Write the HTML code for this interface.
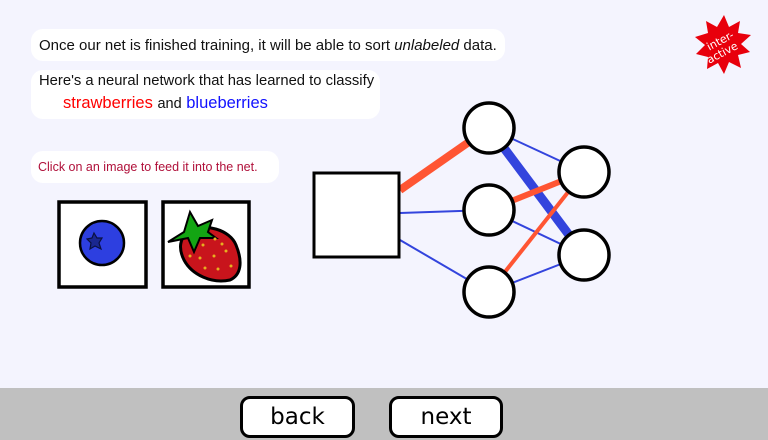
<!DOCTYPE html>
<html><head><style>
body{margin:0;width:768px;height:440px;background:#f4f4fe;font-family:"Liberation Sans",sans-serif;position:relative;overflow:hidden}
.b{position:absolute;background:#fff;border-radius:12px}
.bar{position:absolute;left:0;top:388px;width:768px;height:52px;background:#c0c0c0}
.btn{position:absolute;top:396px;height:36px;background:#fff;border:3px solid #000;border-radius:10px;font-family:"Comic Sans MS","DejaVu Sans",sans-serif;font-size:23px;text-align:center;line-height:36px;box-sizing:content-box}
</style></head><body>
<div class="b" style="left:31px;top:29px;width:474px;height:32px"><div style="position:absolute;left:8px;top:8px;font-size:15px;color:#111;white-space:nowrap">Once our net is finished training, it will be able to sort <i>unlabeled</i> data.</div></div>
<div class="b" style="left:31px;top:70px;width:349px;height:49px"><div style="position:absolute;left:8px;top:3px;font-size:14.8px;color:#111;white-space:nowrap">Here's a neural network that has learned to classify</div><div style="position:absolute;left:32px;top:24px;font-size:16.5px;white-space:nowrap"><span style="color:#f00">strawberries</span> <span style="font-size:14.5px;color:#111">and</span> <span style="color:#11f">blueberries</span></div></div>
<div class="b" style="left:31px;top:151px;width:248px;height:32px"><div style="position:absolute;left:7px;top:9px;font-size:12.5px;color:#b0103a">Click on an image to feed it into the net.</div></div>
<div class="bar"></div>
<div class="btn" style="left:240px;width:109px">back</div>
<div class="btn" style="left:389px;width:108px">next</div>
<svg width="768" height="440" style="position:absolute;left:0;top:0">
<g stroke-linecap="butt">
<line x1="400" y1="190" x2="489" y2="128" stroke="#ff5533" stroke-width="8"/>
<line x1="400" y1="213" x2="489" y2="210" stroke="#3344dd" stroke-width="2"/>
<line x1="400" y1="240" x2="489" y2="292" stroke="#3344dd" stroke-width="2"/>
<line x1="489" y1="128" x2="584" y2="172" stroke="#3344dd" stroke-width="2"/>
<line x1="489" y1="128" x2="584" y2="255" stroke="#3344dd" stroke-width="9"/>
<line x1="489" y1="210" x2="584" y2="172" stroke="#ff5533" stroke-width="6"/>
<line x1="489" y1="210" x2="584" y2="255" stroke="#3344dd" stroke-width="2"/>
<line x1="489" y1="292" x2="584" y2="172" stroke="#ff5533" stroke-width="4"/>
<line x1="489" y1="292" x2="584" y2="255" stroke="#3344dd" stroke-width="2"/>
</g>
<rect x="314" y="173" width="85" height="84" fill="#fff" stroke="#000" stroke-width="3"/>
<g fill="#fff" stroke="#000" stroke-width="3.5">
<circle cx="489" cy="128" r="25"/><circle cx="489" cy="210" r="25"/><circle cx="489" cy="292" r="25"/>
<circle cx="584" cy="172" r="25"/><circle cx="584" cy="255" r="25"/>
</g>
<rect x="59" y="202" width="87" height="85" fill="#fff" stroke="#000" stroke-width="3.5"/>
<rect x="163" y="202" width="86" height="85" fill="#fff" stroke="#000" stroke-width="3.5"/>
<circle cx="102" cy="243" r="22" fill="#2d3fe0" stroke="#000" stroke-width="2.5"/>
<polygon points="94,233 97,238 102,238 99,243 101,249 95,246 90,249 91,243 87,239 92,238" fill="#1a2790" stroke="#0a1040" stroke-width="1.2"/>
<path d="M188,232 C205,222 230,230 236,245 C243,262 241,275 230,280 C212,284 192,275 184,260 C178,248 180,238 188,232Z" fill="#c8141c" stroke="#000" stroke-width="3"/>
<polygon points="168,242 184,232 190,212 198,226 212,220 208,232 216,238 200,238 194,252 188,238" fill="#13a513" stroke="#000" stroke-width="2"/>
<g fill="#e6b020"><circle cx="203" cy="245" r="1.5"/><circle cx="215" cy="239" r="1.5"/><circle cx="226" cy="251" r="1.5"/><circle cx="214" cy="256" r="1.5"/><circle cx="200" cy="258" r="1.5"/><circle cx="190" cy="256" r="1.5"/><circle cx="205" cy="268" r="1.5"/><circle cx="218" cy="269" r="1.5"/><circle cx="231" cy="266" r="1.5"/><circle cx="222" cy="244" r="1.5"/></g>
<polygon fill="#e8000c" points="724,15 729,27 740,21 738,33 751,35 741,44 750,52 738,55 741,68 729,62 724,74 718,63 707,69 708,57 696,54 705,45 695,37 708,33 706,21 717,27"/>
<text x="722" y="44" transform="rotate(-28 722 44)" font-family="'Comic Sans MS','DejaVu Sans',sans-serif" font-size="11" fill="#fff" text-anchor="middle">inter-</text>
<text x="724" y="56" transform="rotate(-28 724 56)" font-family="'Comic Sans MS','DejaVu Sans',sans-serif" font-size="11" fill="#fff" text-anchor="middle">active</text>
</svg>
</body></html>
